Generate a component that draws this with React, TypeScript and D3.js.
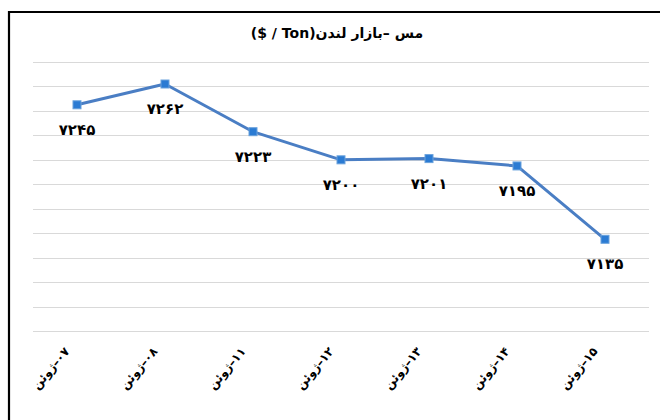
import React from "react";
import * as d3 from "d3";

const categories = ["07", "08", "11", "12", "13", "14", "15"];
const monthLabel = "ژوئن";
const values = [7245, 7262, 7223, 7200, 7201, 7195, 7135];
const gridTicks = [7060, 7080, 7100, 7120, 7140, 7160, 7180, 7200, 7220, 7240, 7260, 7280];
const title = "مس –بازار لندن(Ton / $)";

const fa = (s: string) => s.replace(/[0-9]/g, (d) => "۰۱۲۳۴۵۶۷۸۹"[+d]);

export default function App() {
  const W = 660, H = 420;
  const x = d3.scalePoint<string>().domain(categories).range([77, 605]);
  const y = d3.scaleLinear().domain([7060, 7280]).range([331, 62]);
  const line = d3.line<number>().x((_, i) => x(categories[i])!).y((d) => y(d));
  const font = "'DejaVu Sans', sans-serif";
  return (
    <svg width={W} height={H} style={{ position: "absolute", left: 0, top: 0, background: "#fff" }}>
      <rect x={0} y={0} width={W} height={H} fill="#fff" />
      <path d={`M9,${H} L9,12 L${W},12`} fill="none" stroke="#000" strokeWidth={2.2} />
      <text x={337} y={38} textAnchor="middle" fontFamily={font} fontWeight="bold" fontSize={14} fill="#000" direction="rtl">
        {title}
      </text>
      {gridTicks.map((t) => (
        <line key={t} x1={33} x2={649} y1={Math.round(y(t)) + 0.5} y2={Math.round(y(t)) + 0.5} stroke="#d9d9d9" strokeWidth={1} />
      ))}
      <path d={line(values)!} fill="none" stroke="#4a7ec4" strokeWidth={3} strokeLinejoin="round" />
      {values.map((v, i) => (
        <rect key={i} x={x(categories[i])! - 4} y={y(v) - 4} width={8} height={8} fill="#2b7bd3" stroke="#6aa2dc" strokeWidth={1} />
      ))}
      {values.map((v, i) => (
        <text key={"l" + i} x={x(categories[i])!} y={y(v) + 30} textAnchor="middle" fontFamily={font} fontWeight="bold" fontSize={15} fill="#000">
          {fa(String(v))}
        </text>
      ))}
      {categories.map((c, i) => {
        const ax = x(c)! - 10;
        const ay = 349;
        return (
          <text key={"c" + i} transform={`translate(${ax},${ay}) rotate(-50)`} textAnchor="end" fontFamily={font} fontWeight="bold" fontSize={12} fill="#000" dy="0.35em">
            {"\u202B" + fa(c) + "–" + monthLabel + "\u202C"}
          </text>
        );
      })}
    </svg>
  );
}
